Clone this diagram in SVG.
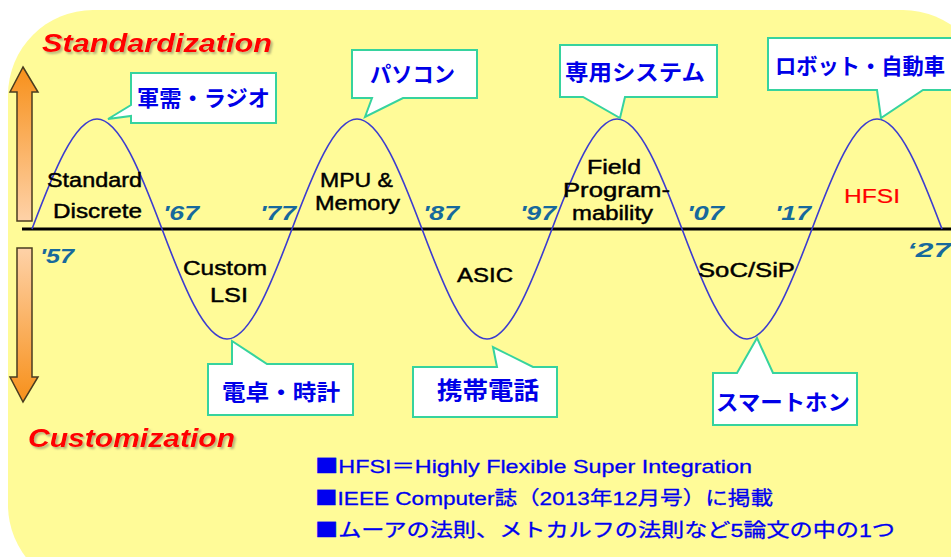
<svg xmlns="http://www.w3.org/2000/svg" width="951" height="557" viewBox="0 0 951 557">
<defs>
<linearGradient id="gUp" x1="0" y1="0" x2="0" y2="1">
<stop offset="0" stop-color="#f7901a"/>
<stop offset="1" stop-color="#fed2a8"/>
</linearGradient>
<linearGradient id="gDown" x1="0" y1="0" x2="0" y2="1">
<stop offset="0" stop-color="#fed2a8"/>
<stop offset="1" stop-color="#f7901a"/>
</linearGradient>
<filter id="sh" x="-5%" y="-20%" width="110%" height="150%">
<feDropShadow dx="2" dy="2" stdDeviation="1.2" flood-color="#7a7a60" flood-opacity="0.55"/>
</filter>
<style>
.call{fill:#ffffff;stroke:#36d39e;stroke-width:2;}
.ct{font-family:"Noto Sans CJK JP",sans-serif;font-weight:bold;font-size:22px;fill:#0000e8;}
.lbl{font-family:"Liberation Sans","DejaVu Sans",sans-serif;font-size:20px;fill:#000000;stroke:#000000;stroke-width:0.45;}
.yr{font-family:"Liberation Sans",sans-serif;font-weight:bold;font-style:italic;font-size:21px;fill:#17699c;}
.ttl{font-family:"Liberation Sans",sans-serif;font-weight:bold;font-style:italic;font-size:26px;fill:#ff0000;filter:url(#sh);}
.note{font-family:"Liberation Sans","Noto Sans CJK JP",sans-serif;font-size:19px;fill:#0000f0;stroke:#0000f0;stroke-width:0.3;}
.sq{font-family:"Noto Sans CJK JP",sans-serif;}
.arr{stroke:#4a3c20;stroke-width:1.5;stroke-linejoin:miter;}
</style>
</defs>
<rect x="0" y="0" width="951" height="557" fill="#ffffff"/>
<rect id="background" x="8" y="10" width="980" height="580" rx="85" ry="85" fill="#fffb98"/>

<g id="arrows">
<path class="arr" fill="url(#gUp)" d="M23,67 L38,92 L32,92 L32,221 L17,221 L17,92 L10,92 Z"/>
<path class="arr" fill="url(#gDown)" d="M17,248 L32,248 L32,377 L38,377 L23,402 L10,377 L17,377 Z"/>
</g>

<g id="titles">
<text class="ttl" x="42" y="52" textLength="230" lengthAdjust="spacingAndGlyphs">Standardization</text>
<text class="ttl" x="28" y="447" textLength="207" lengthAdjust="spacingAndGlyphs">Customization</text>
</g>

<g id="connectors">
<line id="axis" x1="22" y1="229" x2="951" y2="229" stroke="#000000" stroke-width="3"/>
<path id="wave" fill="none" stroke="#3c3cd0" stroke-width="1.6" d="M32,229 C53.2,172.65 74.65,119 97,119 C119.35,119 140.8,172.65 162,229 C183.2,285.35 204.65,339 227,339 C249.35,339 270.8,285.35 292,229 C313.2,172.65 334.65,119 357,119 C379.35,119 400.8,172.65 422,229 C443.2,285.35 464.65,339 487,339 C509.35,339 530.8,285.35 552,229 C573.2,172.65 594.65,119 617,119 C639.35,119 660.8,172.65 682,229 C703.2,285.35 724.65,339 747,339 C769.35,339 790.8,285.35 812,229 C833.2,172.65 854.65,119 877,119 C899.35,119 920.8,172.65 942,229"/>
</g>

<g id="years">
<text class="yr" x="40" y="263" textLength="34" lengthAdjust="spacingAndGlyphs">'57</text>
<text class="yr" x="163" y="220" textLength="36" lengthAdjust="spacingAndGlyphs">'67</text>
<text class="yr" x="260" y="220" textLength="36" lengthAdjust="spacingAndGlyphs">'77</text>
<text class="yr" x="423" y="220" textLength="36" lengthAdjust="spacingAndGlyphs">'87</text>
<text class="yr" x="520" y="220" textLength="36" lengthAdjust="spacingAndGlyphs">'97</text>
<text class="yr" x="687" y="220" textLength="37" lengthAdjust="spacingAndGlyphs">'07</text>
<text class="yr" x="775" y="220" textLength="36" lengthAdjust="spacingAndGlyphs">'17</text>
<text class="yr" x="907" y="257" textLength="44" lengthAdjust="spacingAndGlyphs">‘27</text>
</g>

<g id="eras">
<g id="era-standard-discrete">
<text class="lbl" x="47" y="187" textLength="95" lengthAdjust="spacingAndGlyphs">Standard</text>
<text class="lbl" x="53" y="218" textLength="89" lengthAdjust="spacingAndGlyphs">Discrete</text>
</g>
<g id="era-custom-lsi">
<text class="lbl" x="183" y="275" textLength="84" lengthAdjust="spacingAndGlyphs">Custom</text>
<text class="lbl" x="210" y="302" textLength="38" lengthAdjust="spacingAndGlyphs">LSI</text>
</g>
<g id="era-mpu">
<text class="lbl" x="320" y="187" textLength="73" lengthAdjust="spacingAndGlyphs">MPU &amp;</text>
<text class="lbl" x="315" y="210" textLength="85" lengthAdjust="spacingAndGlyphs">Memory</text>
</g>
<g id="era-asic">
<text class="lbl" x="457" y="282" textLength="56" lengthAdjust="spacingAndGlyphs">ASIC</text>
</g>
<g id="era-field">
<text class="lbl" x="587" y="174" textLength="54" lengthAdjust="spacingAndGlyphs">Field</text>
<text class="lbl" x="563" y="197" textLength="107" lengthAdjust="spacingAndGlyphs">Program-</text>
<text class="lbl" x="572" y="220" textLength="81" lengthAdjust="spacingAndGlyphs">mability</text>
</g>
<g id="era-soc">
<text class="lbl" x="698" y="277" textLength="97" lengthAdjust="spacingAndGlyphs">SoC/SiP</text>
</g>
<g id="era-hfsi">
<text class="lbl" x="844" y="203" textLength="56" lengthAdjust="spacingAndGlyphs" style="fill:#ff0000;stroke:#ff0000;stroke-width:0.2">HFSI</text>
</g>
</g>

<g id="callout-radio">
<path class="call" d="M131,73 H276 V123 H131 V116 L108,119 L131,105 Z"/>
<text class="ct" x="137" y="106" textLength="133" lengthAdjust="spacingAndGlyphs">軍需・ラジオ</text>
</g>
<g id="callout-pc">
<path class="call" d="M352,50 H477 V98 H403 L365,117 L372,98 H352 Z"/>
<text class="ct" x="370" y="82" textLength="85" lengthAdjust="spacingAndGlyphs">パソコン</text>
</g>
<g id="callout-dedicated">
<path class="call" d="M560,45 H717 V97 H625 L620,118 L583,97 H560 Z"/>
<text class="ct" x="565" y="80" textLength="140" lengthAdjust="spacingAndGlyphs">専用システム</text>
</g>
<g id="callout-robot">
<path class="call" d="M768,38 H960 V90 H923 L881,118 L877,90 H768 Z"/>
<text class="ct" x="775" y="74" textLength="170" lengthAdjust="spacingAndGlyphs">ロボット・自動車</text>
</g>
<g id="callout-calc">
<path class="call" d="M208,364 H232 L232,341 L267,364 H353 V415 H208 Z"/>
<text class="ct" x="222" y="400" textLength="118" lengthAdjust="spacingAndGlyphs">電卓・時計</text>
</g>
<g id="callout-mobile">
<path class="call" d="M413,367 H497 L493,347 L533,367 H557 V417 H413 Z"/>
<text class="ct" x="437" y="399" textLength="102" lengthAdjust="spacingAndGlyphs" style="font-size:24px">携帯電話</text>
</g>
<g id="callout-smartphone">
<path class="call" d="M713,373 H737 L757,338 L773,373 H857 V425 H713 Z"/>
<text class="ct" x="716" y="410" textLength="134" lengthAdjust="spacingAndGlyphs">スマートホン</text>
</g>

<g id="notes">
<text class="note" x="315" y="473" textLength="437" lengthAdjust="spacingAndGlyphs"><tspan class="sq">■</tspan>HFSI＝Highly Flexible Super Integration</text>
<text class="note" x="315" y="505" textLength="458" lengthAdjust="spacingAndGlyphs"><tspan class="sq">■</tspan>IEEE Computer誌（2013年12月号）に掲載</text>
<text class="note" x="315" y="537" textLength="580" lengthAdjust="spacingAndGlyphs"><tspan class="sq">■</tspan>ムーアの法則、メトカルフの法則など5論文の中の1つ</text>
</g>
</svg>
